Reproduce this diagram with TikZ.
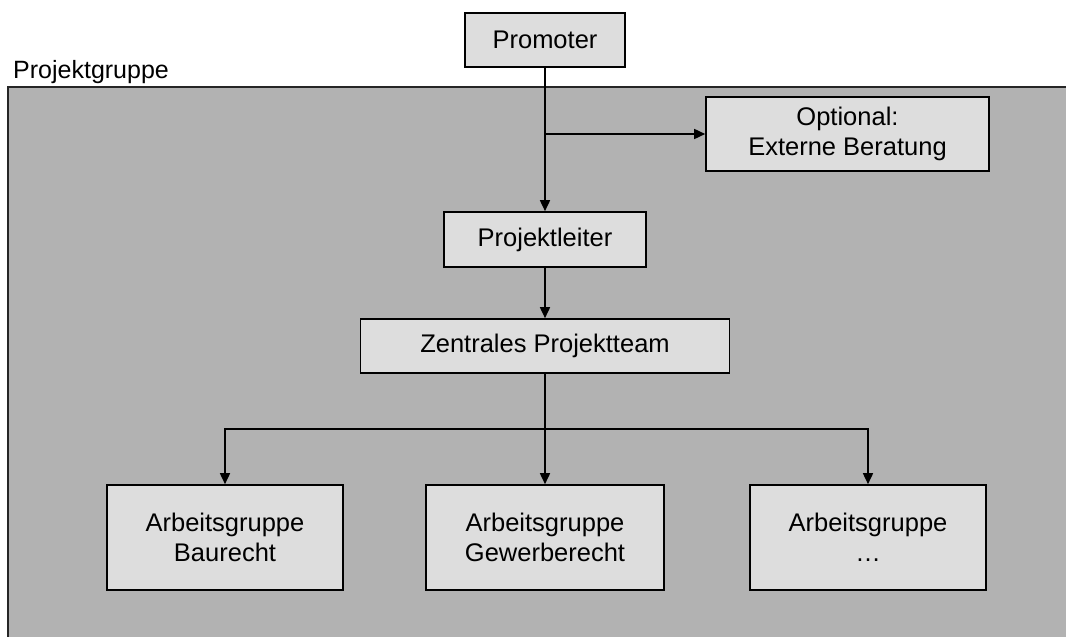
\documentclass[tikz,border=0pt]{standalone}
\usepackage{fontspec}
\setmainfont{Liberation Sans}
\usetikzlibrary{arrows.meta}
\definecolor{bggray}{HTML}{B2B2B2}
\definecolor{boxgray}{HTML}{DDDDDD}
\tikzset{
  orgbox/.style={draw=black, fill=boxgray, line width=1.6pt, inner sep=0pt, align=center,
    font=\fontsize{25.5}{30}\selectfont},
  conn/.style={line width=1.6pt, -{Triangle[length=11pt,width=10pt]}},
  plain/.style={line width=1.6pt},
}
\begin{document}
\begin{tikzpicture}[x=1pt,y=-1pt]
\useasboundingbox (0,0) rectangle (1066,637);
% background group area
\fill[bggray] (8,87) rectangle (1066,637);
\draw[line width=1.4pt, black!85] (8,637) -- (8,87) -- (1066,87);
\node[anchor=base west, inner sep=0pt, font=\fontsize{25}{30}\selectfont] (lbl) at (13,78) {Projektgruppe};

\node[orgbox, minimum width=160pt, minimum height=54pt] (prom) at (545,40) {Promoter};
\node[orgbox, minimum width=283pt, minimum height=74pt] (opt) at (847.5,134) {Optional:\\Externe Beratung};
\node[orgbox, minimum width=202pt, minimum height=55pt] (pl) at (545,239.5) {Projektleiter};
\node[orgbox, minimum width=369pt, minimum height=54pt] (zpt) at (545,346) {Zentrales Projektteam};
\node[orgbox, minimum width=236pt, minimum height=105pt] (ag1) at (225,537.5) {Arbeitsgruppe\\Baurecht};
\node[orgbox, minimum width=238pt, minimum height=105pt] (ag2) at (545,537.5) {Arbeitsgruppe\\Gewerberecht};
\node[orgbox, minimum width=236pt, minimum height=105pt] (ag3) at (868,537.5) {Arbeitsgruppe\\…};

\coordinate (br) at (prom.south |- opt.west);
\coordinate (hub) at (545,429);

\draw[conn] (prom.south) -- (pl.north);
\draw[conn] (br) -- (opt.west);
\draw[conn] (pl.south) -- (zpt.north);
\draw[plain] (zpt.south) -- (hub);
\draw[conn] (hub) -| (ag1.north);
\draw[conn] (hub) -- (ag2.north);
\draw[conn] (hub) -| (ag3.north);
\end{tikzpicture}
\end{document}
